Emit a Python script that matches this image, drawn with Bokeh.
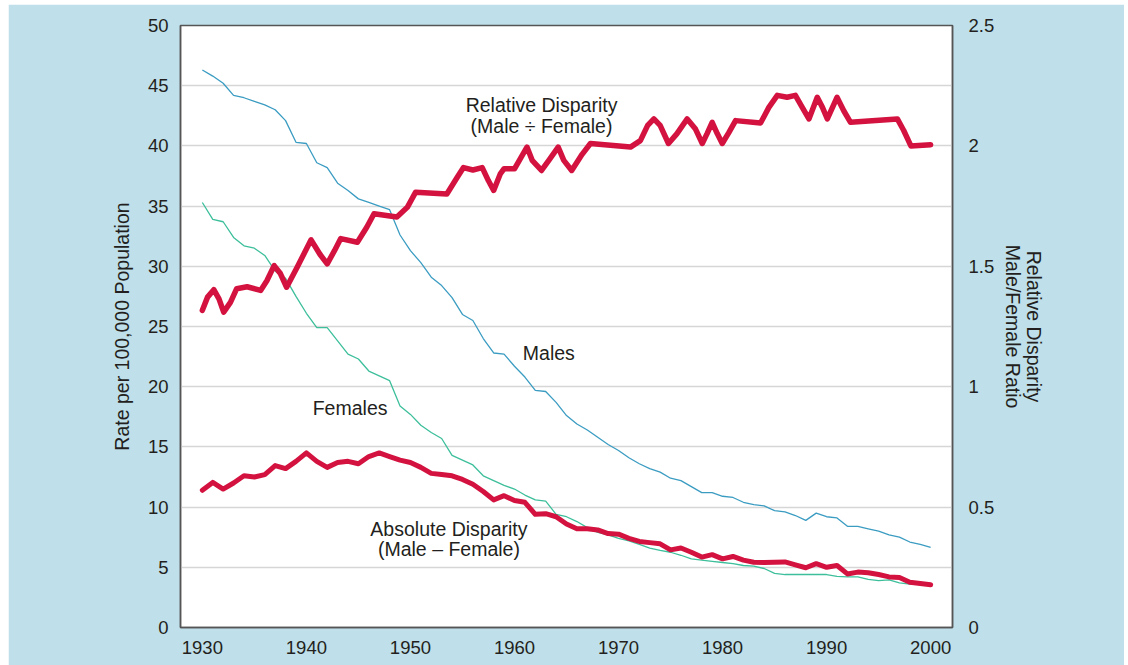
from bokeh.plotting import figure
from bokeh.models import Range1d, LinearAxis, FixedTicker
from bokeh.core.properties import value
from bokeh.embed import file_html
from bokeh.resources import INLINE

years = list(range(1930, 2001))

males = [46.3, 45.8, 45.2, 44.2, 44.0, 43.7, 43.4, 43.0, 42.1, 40.3,
         40.2, 38.6, 38.2, 36.9, 36.3, 35.6, 35.3, 35.0, 34.7, 32.6,
         31.3, 30.3, 29.1, 28.4, 27.4, 26.0, 25.5, 24.0, 22.8, 22.7,
         21.7, 20.8, 19.7, 19.6, 18.7, 17.6, 16.9, 16.4, 15.8, 15.2,
         14.7, 14.1, 13.6, 13.2, 12.9, 12.4, 12.2, 11.7, 11.2, 11.2,
         10.9, 10.8, 10.4, 10.2, 10.1, 9.7, 9.6, 9.3, 8.9, 9.5,
         9.2, 9.1, 8.4, 8.4, 8.2, 8.0, 7.7, 7.5, 7.1, 6.9,
         6.65]

females = [35.3, 33.9, 33.7, 32.4, 31.7, 31.5, 30.9, 29.6, 29.0, 27.5,
           26.1, 24.9, 24.9, 23.8, 22.7, 22.3, 21.3, 20.9, 20.5, 18.4,
           17.7, 16.8, 16.2, 15.7, 14.3, 13.9, 13.5, 12.6, 12.2, 11.8,
           11.5, 11.0, 10.6, 10.5, 9.4, 9.2, 8.8, 8.3, 7.9, 7.7,
           7.4, 7.2, 6.9, 6.6, 6.4, 6.25, 6.0, 5.7, 5.6, 5.5,
           5.4, 5.3, 5.15, 5.1, 4.9, 4.5, 4.4, 4.4, 4.4, 4.4,
           4.4, 4.25, 4.2, 4.2, 4.0, 3.9, 3.95, 3.7, 3.6, 3.6,
           3.55]

absolute = [11.4, 12.05, 11.5, 12.0, 12.6, 12.5, 12.7, 13.45, 13.2, 13.8,
            14.5, 13.8, 13.3, 13.7, 13.8, 13.6, 14.2, 14.5, 14.2, 13.9,
            13.7, 13.3, 12.8, 12.7, 12.6, 12.3, 11.9, 11.3, 10.6, 10.95,
            10.55, 10.4, 9.4, 9.45, 9.2, 8.6, 8.2, 8.2, 8.1, 7.8,
            7.75, 7.4, 7.15, 7.05, 6.95, 6.45, 6.6, 6.25, 5.85, 6.05,
            5.7, 5.9, 5.6, 5.42, 5.4, 5.42, 5.45, 5.2, 4.96, 5.3,
            5.0, 5.15, 4.45, 4.6, 4.55, 4.4, 4.2, 4.15, 3.75, 3.65,
            3.55]

rel_years = [1930.0, 1930.5, 1931.1, 1931.6, 1932.05, 1932.7, 1933.3, 1934.3, 1935.6, 1936.2,
             1936.9, 1937.5, 1938.1, 1939.1, 1940.45, 1941.3, 1942.0, 1942.7, 1943.3, 1944.9,
             1945.8, 1946.5, 1948.7, 1949.7, 1950.5, 1953.5, 1954.5, 1955.1, 1956.0, 1956.9,
             1957.5, 1958.0, 1958.65, 1959.0, 1960.0, 1961.2, 1961.7, 1962.6, 1963.3, 1964.2,
             1964.74, 1965.5, 1966.5, 1967.3, 1971.15, 1972.1, 1972.8, 1973.4, 1974.0, 1974.8,
             1975.6, 1976.6, 1977.4, 1978.05, 1978.5, 1979.0, 1979.5, 1979.97, 1980.6, 1981.25,
             1983.65, 1984.45, 1985.26, 1986.2, 1987.0, 1987.66, 1988.3, 1989.1, 1989.6, 1990.07,
             1991.0, 1991.66, 1992.3, 1996.8, 1997.4, 1998.1, 2000.0]
relative = [1.317, 1.372, 1.403, 1.365, 1.310, 1.350, 1.407, 1.415, 1.400, 1.440,
            1.503, 1.470, 1.413, 1.495, 1.610, 1.550, 1.510, 1.565, 1.615, 1.600,
            1.662, 1.718, 1.705, 1.745, 1.808, 1.800, 1.870, 1.910, 1.900, 1.910,
            1.855, 1.815, 1.885, 1.905, 1.905, 1.995, 1.940, 1.898, 1.940, 1.995,
            1.940, 1.898, 1.965, 2.010, 1.995, 2.022, 2.085, 2.112, 2.085, 2.010,
            2.050, 2.112, 2.070, 2.010, 2.050, 2.098, 2.050, 2.010, 2.055, 2.105,
            2.095, 2.160, 2.210, 2.202, 2.210, 2.160, 2.112, 2.202, 2.160, 2.112,
            2.202, 2.145, 2.098, 2.112, 2.065, 2.000, 2.005]

left_ticks = [0, 5, 10, 15, 20, 25, 30, 35, 40, 45, 50]
right_ticks = [0, 0.5, 1, 1.5, 2, 2.5]
right_labels = {0: "0", 0.5: "0.5", 1: "1", 1.5: "1.5", 2: "2", 2.5: "2.5"}
x_ticks = [1930, 1940, 1950, 1960, 1970, 1980, 1990, 2000]

FONT = "Liberation Sans"
TXT = "#231f20"
BG = "#bfdfea"
RED = "#d3123f"
BLUE = "#3b9cc2"
GREEN = "#3dbf9b"
AX = "#555555"

p = figure(width=1116, height=661, output_backend="svg", toolbar_location=None,
           x_range=Range1d(1927.9, 2002.1), y_range=Range1d(0, 50),
           min_border_left=172, min_border_right=172, min_border_top=21,
           min_border_bottom=38, margin=(4, 0, 0, 8))
p.border_fill_color = BG
p.background_fill_color = "white"
p.outline_line_color = AX
p.outline_line_width = 1.5

p.extra_y_ranges = {"ratio": Range1d(0, 2.5)}

# grid
p.xgrid.grid_line_color = None
p.ygrid.grid_line_color = "#d6d6d6"
p.ygrid.grid_line_width = 1.5
p.ygrid.ticker = FixedTicker(ticks=left_ticks)


def style_axis(ax):
    ax.axis_line_color = AX
    ax.axis_line_width = 1.5
    ax.major_tick_line_color = None
    ax.minor_tick_line_color = None
    ax.major_tick_out = 0
    ax.major_tick_in = 0
    ax.minor_tick_out = 0
    ax.minor_tick_in = 0
    ax.major_label_text_font = FONT
    ax.major_label_text_font_size = "18.5px"
    ax.major_label_text_color = TXT
    ax.axis_label_text_font = FONT
    ax.axis_label_text_font_size = "19.5px"
    ax.axis_label_text_font_style = "normal"
    ax.axis_label_text_color = TXT


style_axis(p.xaxis[0])
style_axis(p.yaxis[0])
p.xaxis[0].ticker = FixedTicker(ticks=x_ticks)
p.xaxis[0].major_label_standoff = 13
p.yaxis[0].ticker = FixedTicker(ticks=left_ticks)
p.yaxis[0].major_label_standoff = 12
p.yaxis[0].axis_label = "Rate per 100,000 Population"
p.yaxis[0].axis_label_standoff = 12

rax = LinearAxis(y_range_name="ratio", ticker=FixedTicker(ticks=right_ticks),
                 major_label_overrides=right_labels,
                 axis_label="Relative Disparity\nMale/Female Ratio")
style_axis(rax)
rax.major_label_standoff = 16
rax.axis_label_standoff = 5
rax.axis_label_text_line_height = 0.95
p.add_layout(rax, "right")

# series
p.line(years, males, line_color=BLUE, line_width=1.3)
p.line(years, females, line_color=GREEN, line_width=1.3)
p.line(years, absolute, line_color=RED, line_width=5, line_join="round", line_cap="round")
p.line(rel_years, relative, y_range_name="ratio", line_color=RED, line_width=5.5,
       line_join="round", line_cap="round")

# annotations
lab_x = [1962.6, 1962.6, 1963.3, 1944.2, 1953.7, 1953.7]
lab_y = [43.36, 41.69, 22.76, 18.27, 8.22, 6.56]
lab_t = ["Relative Disparity", "(Male \u00f7 Female)", "Males", "Females",
         "Absolute Disparity", "(Male \u2013 Female)"]
p.text(lab_x, lab_y, text=lab_t, text_font=value(FONT), text_font_size="19.5px",
       text_color=TXT, text_align="center", text_baseline="middle")

open("out.html", "w").write(file_html(p, INLINE))
